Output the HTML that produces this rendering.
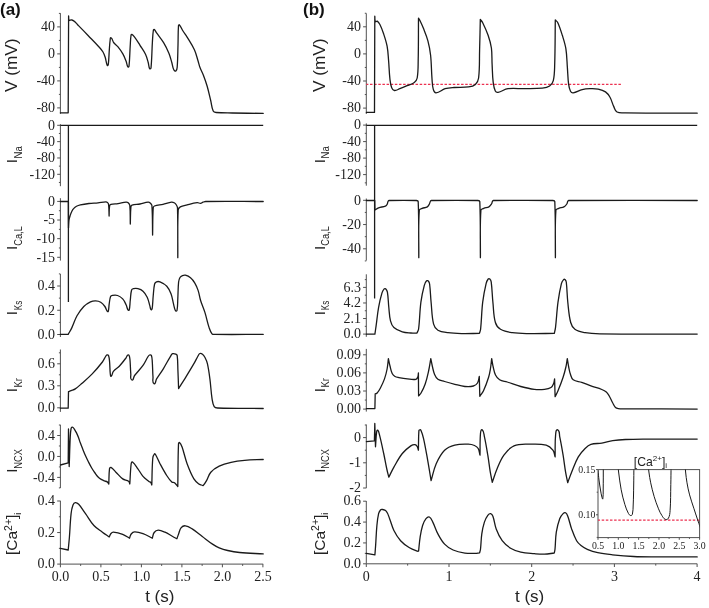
<!DOCTYPE html>
<html><head><meta charset="utf-8"><title>figure</title>
<style>html,body{margin:0;padding:0;background:#fff;width:709px;height:608px;overflow:hidden;}svg{display:block;filter:blur(0.35px);}</style>
</head><body>
<svg width="709" height="608" viewBox="0 0 709 608">
<rect width="709" height="608" fill="#fff"/>
<line x1="60.4" y1="13.2" x2="60.4" y2="113.9" stroke="#505050" stroke-width="1.0"/>
<line x1="57.2" y1="26.9" x2="60.4" y2="26.9" stroke="#505050" stroke-width="1.0"/>
<text x="55.1" y="31.19" font-family="Liberation Serif" font-size="14" text-anchor="end" fill="#222">40</text>
<line x1="57.2" y1="53.9" x2="60.4" y2="53.9" stroke="#505050" stroke-width="1.0"/>
<text x="55.1" y="58.19" font-family="Liberation Serif" font-size="14" text-anchor="end" fill="#222">0</text>
<line x1="57.2" y1="80.9" x2="60.4" y2="80.9" stroke="#505050" stroke-width="1.0"/>
<text x="55.1" y="85.19" font-family="Liberation Serif" font-size="14" text-anchor="end" fill="#222">-40</text>
<line x1="57.2" y1="107.9" x2="60.4" y2="107.9" stroke="#505050" stroke-width="1.0"/>
<text x="55.1" y="112.19" font-family="Liberation Serif" font-size="14" text-anchor="end" fill="#222">-80</text>
<line x1="58.9" y1="13.4" x2="60.4" y2="13.4" stroke="#505050" stroke-width="1.0"/>
<line x1="58.9" y1="40.4" x2="60.4" y2="40.4" stroke="#505050" stroke-width="1.0"/>
<line x1="58.9" y1="67.4" x2="60.4" y2="67.4" stroke="#505050" stroke-width="1.0"/>
<line x1="58.9" y1="94.4" x2="60.4" y2="94.4" stroke="#505050" stroke-width="1.0"/>
<line x1="60.4" y1="124.2" x2="60.4" y2="186.2" stroke="#505050" stroke-width="1.0"/>
<line x1="57.2" y1="125.3" x2="60.4" y2="125.3" stroke="#505050" stroke-width="1.0"/>
<text x="55.1" y="129.59" font-family="Liberation Serif" font-size="14" text-anchor="end" fill="#222">0</text>
<line x1="57.2" y1="141.63" x2="60.4" y2="141.63" stroke="#505050" stroke-width="1.0"/>
<text x="55.1" y="145.92" font-family="Liberation Serif" font-size="14" text-anchor="end" fill="#222">-40</text>
<line x1="57.2" y1="157.97" x2="60.4" y2="157.97" stroke="#505050" stroke-width="1.0"/>
<text x="55.1" y="162.26" font-family="Liberation Serif" font-size="14" text-anchor="end" fill="#222">-80</text>
<line x1="57.2" y1="174.3" x2="60.4" y2="174.3" stroke="#505050" stroke-width="1.0"/>
<text x="55.1" y="178.59" font-family="Liberation Serif" font-size="14" text-anchor="end" fill="#222">-120</text>
<line x1="58.9" y1="133.47" x2="60.4" y2="133.47" stroke="#505050" stroke-width="1.0"/>
<line x1="58.9" y1="149.8" x2="60.4" y2="149.8" stroke="#505050" stroke-width="1.0"/>
<line x1="58.9" y1="166.13" x2="60.4" y2="166.13" stroke="#505050" stroke-width="1.0"/>
<line x1="58.9" y1="182.47" x2="60.4" y2="182.47" stroke="#505050" stroke-width="1.0"/>
<line x1="60.4" y1="198.2" x2="60.4" y2="260.6" stroke="#505050" stroke-width="1.0"/>
<line x1="57.2" y1="201.4" x2="60.4" y2="201.4" stroke="#505050" stroke-width="1.0"/>
<text x="55.1" y="205.69" font-family="Liberation Serif" font-size="14" text-anchor="end" fill="#222">0</text>
<line x1="57.2" y1="220.03" x2="60.4" y2="220.03" stroke="#505050" stroke-width="1.0"/>
<text x="55.1" y="224.32" font-family="Liberation Serif" font-size="14" text-anchor="end" fill="#222">-5</text>
<line x1="57.2" y1="238.67" x2="60.4" y2="238.67" stroke="#505050" stroke-width="1.0"/>
<text x="55.1" y="242.96" font-family="Liberation Serif" font-size="14" text-anchor="end" fill="#222">-10</text>
<line x1="57.2" y1="257.3" x2="60.4" y2="257.3" stroke="#505050" stroke-width="1.0"/>
<text x="55.1" y="261.59" font-family="Liberation Serif" font-size="14" text-anchor="end" fill="#222">-15</text>
<line x1="58.9" y1="210.72" x2="60.4" y2="210.72" stroke="#505050" stroke-width="1.0"/>
<line x1="58.9" y1="229.35" x2="60.4" y2="229.35" stroke="#505050" stroke-width="1.0"/>
<line x1="58.9" y1="247.98" x2="60.4" y2="247.98" stroke="#505050" stroke-width="1.0"/>
<line x1="60.4" y1="274" x2="60.4" y2="337" stroke="#505050" stroke-width="1.0"/>
<line x1="57.2" y1="286" x2="60.4" y2="286" stroke="#505050" stroke-width="1.0"/>
<text x="55.1" y="290.29" font-family="Liberation Serif" font-size="14" text-anchor="end" fill="#222">0.4</text>
<line x1="57.2" y1="310.25" x2="60.4" y2="310.25" stroke="#505050" stroke-width="1.0"/>
<text x="55.1" y="314.54" font-family="Liberation Serif" font-size="14" text-anchor="end" fill="#222">0.2</text>
<line x1="57.2" y1="334.5" x2="60.4" y2="334.5" stroke="#505050" stroke-width="1.0"/>
<text x="55.1" y="338.79" font-family="Liberation Serif" font-size="14" text-anchor="end" fill="#222">0.0</text>
<line x1="58.9" y1="273.88" x2="60.4" y2="273.88" stroke="#505050" stroke-width="1.0"/>
<line x1="58.9" y1="298.12" x2="60.4" y2="298.12" stroke="#505050" stroke-width="1.0"/>
<line x1="58.9" y1="322.38" x2="60.4" y2="322.38" stroke="#505050" stroke-width="1.0"/>
<line x1="60.4" y1="349.5" x2="60.4" y2="411.9" stroke="#505050" stroke-width="1.0"/>
<line x1="57.2" y1="363.8" x2="60.4" y2="363.8" stroke="#505050" stroke-width="1.0"/>
<text x="55.1" y="368.09" font-family="Liberation Serif" font-size="14" text-anchor="end" fill="#222">0.6</text>
<line x1="57.2" y1="385.8" x2="60.4" y2="385.8" stroke="#505050" stroke-width="1.0"/>
<text x="55.1" y="390.09" font-family="Liberation Serif" font-size="14" text-anchor="end" fill="#222">0.3</text>
<line x1="57.2" y1="407.8" x2="60.4" y2="407.8" stroke="#505050" stroke-width="1.0"/>
<text x="55.1" y="412.09" font-family="Liberation Serif" font-size="14" text-anchor="end" fill="#222">0.0</text>
<line x1="58.9" y1="352.8" x2="60.4" y2="352.8" stroke="#505050" stroke-width="1.0"/>
<line x1="58.9" y1="374.8" x2="60.4" y2="374.8" stroke="#505050" stroke-width="1.0"/>
<line x1="58.9" y1="396.8" x2="60.4" y2="396.8" stroke="#505050" stroke-width="1.0"/>
<line x1="60.4" y1="424.8" x2="60.4" y2="488" stroke="#505050" stroke-width="1.0"/>
<line x1="57.2" y1="435.5" x2="60.4" y2="435.5" stroke="#505050" stroke-width="1.0"/>
<text x="55.1" y="439.79" font-family="Liberation Serif" font-size="14" text-anchor="end" fill="#222">0.4</text>
<line x1="57.2" y1="456.45" x2="60.4" y2="456.45" stroke="#505050" stroke-width="1.0"/>
<text x="55.1" y="460.74" font-family="Liberation Serif" font-size="14" text-anchor="end" fill="#222">0.0</text>
<line x1="57.2" y1="477.4" x2="60.4" y2="477.4" stroke="#505050" stroke-width="1.0"/>
<text x="55.1" y="481.69" font-family="Liberation Serif" font-size="14" text-anchor="end" fill="#222">-0.4</text>
<line x1="58.9" y1="425.03" x2="60.4" y2="425.03" stroke="#505050" stroke-width="1.0"/>
<line x1="58.9" y1="445.98" x2="60.4" y2="445.98" stroke="#505050" stroke-width="1.0"/>
<line x1="58.9" y1="466.93" x2="60.4" y2="466.93" stroke="#505050" stroke-width="1.0"/>
<line x1="58.9" y1="487.88" x2="60.4" y2="487.88" stroke="#505050" stroke-width="1.0"/>
<line x1="60.4" y1="500.8" x2="60.4" y2="564.1" stroke="#505050" stroke-width="1.0"/>
<line x1="57.2" y1="501" x2="60.4" y2="501" stroke="#505050" stroke-width="1.0"/>
<text x="55.1" y="505.29" font-family="Liberation Serif" font-size="14" text-anchor="end" fill="#222">0.4</text>
<line x1="57.2" y1="532.55" x2="60.4" y2="532.55" stroke="#505050" stroke-width="1.0"/>
<text x="55.1" y="536.84" font-family="Liberation Serif" font-size="14" text-anchor="end" fill="#222">0.2</text>
<line x1="57.2" y1="564.1" x2="60.4" y2="564.1" stroke="#505050" stroke-width="1.0"/>
<text x="55.1" y="568.39" font-family="Liberation Serif" font-size="14" text-anchor="end" fill="#222">0.0</text>
<line x1="58.9" y1="516.77" x2="60.4" y2="516.77" stroke="#505050" stroke-width="1.0"/>
<line x1="58.9" y1="548.33" x2="60.4" y2="548.33" stroke="#505050" stroke-width="1.0"/>
<line x1="60.4" y1="564.1" x2="263.2" y2="564.1" stroke="#505050" stroke-width="1.0"/>
<line x1="60.4" y1="564.1" x2="60.4" y2="567.3" stroke="#505050" stroke-width="1.0"/>
<text x="60.4" y="580.8" font-family="Liberation Serif" font-size="14" text-anchor="middle" fill="#222">0.0</text>
<line x1="100.9" y1="564.1" x2="100.9" y2="567.3" stroke="#505050" stroke-width="1.0"/>
<text x="100.9" y="580.8" font-family="Liberation Serif" font-size="14" text-anchor="middle" fill="#222">0.5</text>
<line x1="141.4" y1="564.1" x2="141.4" y2="567.3" stroke="#505050" stroke-width="1.0"/>
<text x="141.4" y="580.8" font-family="Liberation Serif" font-size="14" text-anchor="middle" fill="#222">1.0</text>
<line x1="181.9" y1="564.1" x2="181.9" y2="567.3" stroke="#505050" stroke-width="1.0"/>
<text x="181.9" y="580.8" font-family="Liberation Serif" font-size="14" text-anchor="middle" fill="#222">1.5</text>
<line x1="222.4" y1="564.1" x2="222.4" y2="567.3" stroke="#505050" stroke-width="1.0"/>
<text x="222.4" y="580.8" font-family="Liberation Serif" font-size="14" text-anchor="middle" fill="#222">2.0</text>
<line x1="262.9" y1="564.1" x2="262.9" y2="567.3" stroke="#505050" stroke-width="1.0"/>
<text x="262.9" y="580.8" font-family="Liberation Serif" font-size="14" text-anchor="middle" fill="#222">2.5</text>
<line x1="80.65" y1="564.1" x2="80.65" y2="565.9" stroke="#505050" stroke-width="1.0"/>
<line x1="121.15" y1="564.1" x2="121.15" y2="565.9" stroke="#505050" stroke-width="1.0"/>
<line x1="161.65" y1="564.1" x2="161.65" y2="565.9" stroke="#505050" stroke-width="1.0"/>
<line x1="202.15" y1="564.1" x2="202.15" y2="565.9" stroke="#505050" stroke-width="1.0"/>
<line x1="242.65" y1="564.1" x2="242.65" y2="565.9" stroke="#505050" stroke-width="1.0"/>
<line x1="366.3" y1="13.4" x2="366.3" y2="114" stroke="#505050" stroke-width="1.0"/>
<line x1="363.1" y1="26.8" x2="366.3" y2="26.8" stroke="#505050" stroke-width="1.0"/>
<text x="361" y="31.09" font-family="Liberation Serif" font-size="14" text-anchor="end" fill="#222">40</text>
<line x1="363.1" y1="53.9" x2="366.3" y2="53.9" stroke="#505050" stroke-width="1.0"/>
<text x="361" y="58.19" font-family="Liberation Serif" font-size="14" text-anchor="end" fill="#222">0</text>
<line x1="363.1" y1="81" x2="366.3" y2="81" stroke="#505050" stroke-width="1.0"/>
<text x="361" y="85.29" font-family="Liberation Serif" font-size="14" text-anchor="end" fill="#222">-40</text>
<line x1="363.1" y1="108.1" x2="366.3" y2="108.1" stroke="#505050" stroke-width="1.0"/>
<text x="361" y="112.39" font-family="Liberation Serif" font-size="14" text-anchor="end" fill="#222">-80</text>
<line x1="364.8" y1="13.25" x2="366.3" y2="13.25" stroke="#505050" stroke-width="1.0"/>
<line x1="364.8" y1="40.35" x2="366.3" y2="40.35" stroke="#505050" stroke-width="1.0"/>
<line x1="364.8" y1="67.45" x2="366.3" y2="67.45" stroke="#505050" stroke-width="1.0"/>
<line x1="364.8" y1="94.55" x2="366.3" y2="94.55" stroke="#505050" stroke-width="1.0"/>
<line x1="366.3" y1="123.4" x2="366.3" y2="185.7" stroke="#505050" stroke-width="1.0"/>
<line x1="363.1" y1="125.1" x2="366.3" y2="125.1" stroke="#505050" stroke-width="1.0"/>
<text x="361" y="129.39" font-family="Liberation Serif" font-size="14" text-anchor="end" fill="#222">0</text>
<line x1="363.1" y1="141.6" x2="366.3" y2="141.6" stroke="#505050" stroke-width="1.0"/>
<text x="361" y="145.89" font-family="Liberation Serif" font-size="14" text-anchor="end" fill="#222">-40</text>
<line x1="363.1" y1="158.1" x2="366.3" y2="158.1" stroke="#505050" stroke-width="1.0"/>
<text x="361" y="162.39" font-family="Liberation Serif" font-size="14" text-anchor="end" fill="#222">-80</text>
<line x1="363.1" y1="174.6" x2="366.3" y2="174.6" stroke="#505050" stroke-width="1.0"/>
<text x="361" y="178.89" font-family="Liberation Serif" font-size="14" text-anchor="end" fill="#222">-120</text>
<line x1="364.8" y1="133.35" x2="366.3" y2="133.35" stroke="#505050" stroke-width="1.0"/>
<line x1="364.8" y1="149.85" x2="366.3" y2="149.85" stroke="#505050" stroke-width="1.0"/>
<line x1="364.8" y1="166.35" x2="366.3" y2="166.35" stroke="#505050" stroke-width="1.0"/>
<line x1="364.8" y1="182.85" x2="366.3" y2="182.85" stroke="#505050" stroke-width="1.0"/>
<line x1="366.3" y1="198.5" x2="366.3" y2="260.6" stroke="#505050" stroke-width="1.0"/>
<line x1="363.1" y1="200.3" x2="366.3" y2="200.3" stroke="#505050" stroke-width="1.0"/>
<text x="361" y="204.59" font-family="Liberation Serif" font-size="14" text-anchor="end" fill="#222">0</text>
<line x1="363.1" y1="224.55" x2="366.3" y2="224.55" stroke="#505050" stroke-width="1.0"/>
<text x="361" y="228.84" font-family="Liberation Serif" font-size="14" text-anchor="end" fill="#222">-20</text>
<line x1="363.1" y1="248.8" x2="366.3" y2="248.8" stroke="#505050" stroke-width="1.0"/>
<text x="361" y="253.09" font-family="Liberation Serif" font-size="14" text-anchor="end" fill="#222">-40</text>
<line x1="364.8" y1="212.43" x2="366.3" y2="212.43" stroke="#505050" stroke-width="1.0"/>
<line x1="364.8" y1="236.68" x2="366.3" y2="236.68" stroke="#505050" stroke-width="1.0"/>
<line x1="364.8" y1="260.93" x2="366.3" y2="260.93" stroke="#505050" stroke-width="1.0"/>
<line x1="366.3" y1="274.3" x2="366.3" y2="336.8" stroke="#505050" stroke-width="1.0"/>
<line x1="363.1" y1="287.4" x2="366.3" y2="287.4" stroke="#505050" stroke-width="1.0"/>
<text x="361" y="291.69" font-family="Liberation Serif" font-size="14" text-anchor="end" fill="#222">6.3</text>
<line x1="363.1" y1="302.97" x2="366.3" y2="302.97" stroke="#505050" stroke-width="1.0"/>
<text x="361" y="307.26" font-family="Liberation Serif" font-size="14" text-anchor="end" fill="#222">4.2</text>
<line x1="363.1" y1="318.53" x2="366.3" y2="318.53" stroke="#505050" stroke-width="1.0"/>
<text x="361" y="322.82" font-family="Liberation Serif" font-size="14" text-anchor="end" fill="#222">2.1</text>
<line x1="363.1" y1="334.1" x2="366.3" y2="334.1" stroke="#505050" stroke-width="1.0"/>
<text x="361" y="338.39" font-family="Liberation Serif" font-size="14" text-anchor="end" fill="#222">0.0</text>
<line x1="364.8" y1="279.62" x2="366.3" y2="279.62" stroke="#505050" stroke-width="1.0"/>
<line x1="364.8" y1="295.18" x2="366.3" y2="295.18" stroke="#505050" stroke-width="1.0"/>
<line x1="364.8" y1="310.75" x2="366.3" y2="310.75" stroke="#505050" stroke-width="1.0"/>
<line x1="364.8" y1="326.32" x2="366.3" y2="326.32" stroke="#505050" stroke-width="1.0"/>
<line x1="366.3" y1="348.9" x2="366.3" y2="411.6" stroke="#505050" stroke-width="1.0"/>
<line x1="363.1" y1="354.8" x2="366.3" y2="354.8" stroke="#505050" stroke-width="1.0"/>
<text x="361" y="359.09" font-family="Liberation Serif" font-size="14" text-anchor="end" fill="#222">0.09</text>
<line x1="363.1" y1="372.9" x2="366.3" y2="372.9" stroke="#505050" stroke-width="1.0"/>
<text x="361" y="377.19" font-family="Liberation Serif" font-size="14" text-anchor="end" fill="#222">0.06</text>
<line x1="363.1" y1="391" x2="366.3" y2="391" stroke="#505050" stroke-width="1.0"/>
<text x="361" y="395.29" font-family="Liberation Serif" font-size="14" text-anchor="end" fill="#222">0.03</text>
<line x1="363.1" y1="409.1" x2="366.3" y2="409.1" stroke="#505050" stroke-width="1.0"/>
<text x="361" y="413.39" font-family="Liberation Serif" font-size="14" text-anchor="end" fill="#222">0.00</text>
<line x1="364.8" y1="363.85" x2="366.3" y2="363.85" stroke="#505050" stroke-width="1.0"/>
<line x1="364.8" y1="381.95" x2="366.3" y2="381.95" stroke="#505050" stroke-width="1.0"/>
<line x1="364.8" y1="400.05" x2="366.3" y2="400.05" stroke="#505050" stroke-width="1.0"/>
<line x1="366.3" y1="424.5" x2="366.3" y2="488.1" stroke="#505050" stroke-width="1.0"/>
<line x1="363.1" y1="437.6" x2="366.3" y2="437.6" stroke="#505050" stroke-width="1.0"/>
<text x="361" y="441.89" font-family="Liberation Serif" font-size="14" text-anchor="end" fill="#222">0</text>
<line x1="363.1" y1="462.8" x2="366.3" y2="462.8" stroke="#505050" stroke-width="1.0"/>
<text x="361" y="467.09" font-family="Liberation Serif" font-size="14" text-anchor="end" fill="#222">-1</text>
<line x1="363.1" y1="488" x2="366.3" y2="488" stroke="#505050" stroke-width="1.0"/>
<text x="361" y="492.29" font-family="Liberation Serif" font-size="14" text-anchor="end" fill="#222">-2</text>
<line x1="364.8" y1="425" x2="366.3" y2="425" stroke="#505050" stroke-width="1.0"/>
<line x1="364.8" y1="450.2" x2="366.3" y2="450.2" stroke="#505050" stroke-width="1.0"/>
<line x1="364.8" y1="475.4" x2="366.3" y2="475.4" stroke="#505050" stroke-width="1.0"/>
<line x1="366.3" y1="501" x2="366.3" y2="563.8" stroke="#505050" stroke-width="1.0"/>
<line x1="363.1" y1="501.2" x2="366.3" y2="501.2" stroke="#505050" stroke-width="1.0"/>
<text x="361" y="505.49" font-family="Liberation Serif" font-size="14" text-anchor="end" fill="#222">0.6</text>
<line x1="363.1" y1="522.07" x2="366.3" y2="522.07" stroke="#505050" stroke-width="1.0"/>
<text x="361" y="526.36" font-family="Liberation Serif" font-size="14" text-anchor="end" fill="#222">0.4</text>
<line x1="363.1" y1="542.93" x2="366.3" y2="542.93" stroke="#505050" stroke-width="1.0"/>
<text x="361" y="547.22" font-family="Liberation Serif" font-size="14" text-anchor="end" fill="#222">0.2</text>
<line x1="363.1" y1="563.8" x2="366.3" y2="563.8" stroke="#505050" stroke-width="1.0"/>
<text x="361" y="568.09" font-family="Liberation Serif" font-size="14" text-anchor="end" fill="#222">0.0</text>
<line x1="364.8" y1="511.63" x2="366.3" y2="511.63" stroke="#505050" stroke-width="1.0"/>
<line x1="364.8" y1="532.5" x2="366.3" y2="532.5" stroke="#505050" stroke-width="1.0"/>
<line x1="364.8" y1="553.37" x2="366.3" y2="553.37" stroke="#505050" stroke-width="1.0"/>
<line x1="366.3" y1="563.8" x2="697.2" y2="563.8" stroke="#505050" stroke-width="1.0"/>
<line x1="366.3" y1="563.8" x2="366.3" y2="567" stroke="#505050" stroke-width="1.0"/>
<text x="366.3" y="580.6" font-family="Liberation Serif" font-size="14" text-anchor="middle" fill="#222">0</text>
<line x1="449" y1="563.8" x2="449" y2="567" stroke="#505050" stroke-width="1.0"/>
<text x="449" y="580.6" font-family="Liberation Serif" font-size="14" text-anchor="middle" fill="#222">1</text>
<line x1="531.7" y1="563.8" x2="531.7" y2="567" stroke="#505050" stroke-width="1.0"/>
<text x="531.7" y="580.6" font-family="Liberation Serif" font-size="14" text-anchor="middle" fill="#222">2</text>
<line x1="614.4" y1="563.8" x2="614.4" y2="567" stroke="#505050" stroke-width="1.0"/>
<text x="614.4" y="580.6" font-family="Liberation Serif" font-size="14" text-anchor="middle" fill="#222">3</text>
<line x1="697.1" y1="563.8" x2="697.1" y2="567" stroke="#505050" stroke-width="1.0"/>
<text x="697.1" y="580.6" font-family="Liberation Serif" font-size="14" text-anchor="middle" fill="#222">4</text>
<line x1="407.65" y1="563.8" x2="407.65" y2="565.6" stroke="#505050" stroke-width="1.0"/>
<line x1="490.35" y1="563.8" x2="490.35" y2="565.6" stroke="#505050" stroke-width="1.0"/>
<line x1="573.05" y1="563.8" x2="573.05" y2="565.6" stroke="#505050" stroke-width="1.0"/>
<line x1="655.75" y1="563.8" x2="655.75" y2="565.6" stroke="#505050" stroke-width="1.0"/>
<text transform="translate(17.1 65.2) rotate(-90)" font-family="Liberation Sans" font-size="17.2" text-anchor="middle" fill="#222">V (mV)</text>
<text transform="translate(17.3 161.1) rotate(-90)" font-family="Liberation Sans" font-size="15.2" text-anchor="middle" fill="#222">I</text>
<text transform="translate(21.5 158.4) rotate(-90)" font-family="Liberation Sans" font-size="10.0" fill="#222" textLength="12.3" lengthAdjust="spacingAndGlyphs">Na</text>
<text transform="translate(17.3 248) rotate(-90)" font-family="Liberation Sans" font-size="15.2" text-anchor="middle" fill="#222">I</text>
<text transform="translate(21.5 245.8) rotate(-90)" font-family="Liberation Sans" font-size="10.0" fill="#222" textLength="19.6" lengthAdjust="spacingAndGlyphs">Ca,L</text>
<text transform="translate(17.3 313.1) rotate(-90)" font-family="Liberation Sans" font-size="15.2" text-anchor="middle" fill="#222">I</text>
<text transform="translate(21.5 310.2) rotate(-90)" font-family="Liberation Sans" font-size="10.0" fill="#222" textLength="9.5" lengthAdjust="spacingAndGlyphs">Ks</text>
<text transform="translate(17.3 390.1) rotate(-90)" font-family="Liberation Sans" font-size="15.2" text-anchor="middle" fill="#222">I</text>
<text transform="translate(21.5 387.6) rotate(-90)" font-family="Liberation Sans" font-size="10.0" fill="#222" textLength="9.4" lengthAdjust="spacingAndGlyphs">Kr</text>
<text transform="translate(17.3 470.7) rotate(-90)" font-family="Liberation Sans" font-size="15.2" text-anchor="middle" fill="#222">I</text>
<text transform="translate(21.5 468.7) rotate(-90)" font-family="Liberation Sans" font-size="10.0" fill="#222" textLength="19.6" lengthAdjust="spacingAndGlyphs">NCX</text>
<text transform="translate(17.4 555) rotate(-90)" font-family="Liberation Sans" font-size="15.5" fill="#222">[Ca<tspan font-size="10.4" dy="-5.7">2+</tspan><tspan dy="5.7">]</tspan><tspan font-size="9.3" dy="3.6">i</tspan></text>
<text transform="translate(324.5 65.2) rotate(-90)" font-family="Liberation Sans" font-size="17.2" text-anchor="middle" fill="#222">V (mV)</text>
<text transform="translate(324.7 161.1) rotate(-90)" font-family="Liberation Sans" font-size="15.2" text-anchor="middle" fill="#222">I</text>
<text transform="translate(328.9 158.4) rotate(-90)" font-family="Liberation Sans" font-size="10.0" fill="#222" textLength="12.3" lengthAdjust="spacingAndGlyphs">Na</text>
<text transform="translate(324.7 248) rotate(-90)" font-family="Liberation Sans" font-size="15.2" text-anchor="middle" fill="#222">I</text>
<text transform="translate(328.9 245.8) rotate(-90)" font-family="Liberation Sans" font-size="10.0" fill="#222" textLength="19.6" lengthAdjust="spacingAndGlyphs">Ca,L</text>
<text transform="translate(324.7 313.1) rotate(-90)" font-family="Liberation Sans" font-size="15.2" text-anchor="middle" fill="#222">I</text>
<text transform="translate(328.9 310.2) rotate(-90)" font-family="Liberation Sans" font-size="10.0" fill="#222" textLength="9.5" lengthAdjust="spacingAndGlyphs">Ks</text>
<text transform="translate(324.7 390.1) rotate(-90)" font-family="Liberation Sans" font-size="15.2" text-anchor="middle" fill="#222">I</text>
<text transform="translate(328.9 387.6) rotate(-90)" font-family="Liberation Sans" font-size="10.0" fill="#222" textLength="9.4" lengthAdjust="spacingAndGlyphs">Kr</text>
<text transform="translate(324.7 470.7) rotate(-90)" font-family="Liberation Sans" font-size="15.2" text-anchor="middle" fill="#222">I</text>
<text transform="translate(328.9 468.7) rotate(-90)" font-family="Liberation Sans" font-size="10.0" fill="#222" textLength="19.6" lengthAdjust="spacingAndGlyphs">NCX</text>
<text transform="translate(324.8 555) rotate(-90)" font-family="Liberation Sans" font-size="15.5" fill="#222">[Ca<tspan font-size="10.4" dy="-5.7">2+</tspan><tspan dy="5.7">]</tspan><tspan font-size="9.3" dy="3.6">i</tspan></text>
<text x="159.8" y="601.7" font-family="Liberation Sans" font-size="17" text-anchor="middle" fill="#222">t (s)</text>
<text x="529.6" y="601.7" font-family="Liberation Sans" font-size="17" text-anchor="middle" fill="#222">t (s)</text>
<text x="0" y="14.6" font-family="Liberation Sans" font-size="17" font-weight="bold" fill="#111">(a)</text>
<text x="303.0" y="14.6" font-family="Liberation Sans" font-size="17" font-weight="bold" fill="#111">(b)</text>
<path d="M60.4 112.8 L68.2 112.8 L68.6 16 L68.8 20.8 C69.3 20.55 69.66 20.25 70.2 20.1 C70.76 19.95 71.23 19.91 71.8 20 C72.37 20.09 72.79 20.31 73.3 20.6 C73.88 20.93 74.3 21.26 74.8 21.7 C75.45 22.27 75.9 22.77 76.5 23.4 C77.24 24.18 77.76 24.83 78.5 25.6 C82.01 29.26 84.79 32.05 88.3 35.7 C92.1 39.65 95.13 42.63 98.8 46.7 C100.43 48.51 101.74 49.92 103 52 C104.07 53.77 104.57 55.33 105.2 57.3 C106.12 60.2 106.07 62.71 107.3 65.5 C107.53 66.01 108.23 64.86 108.3 64.3 C108.96 59.18 108.91 55.15 109.3 50 C109.56 46.58 109.63 43.9 110.1 40.5 C110.24 39.49 110.11 37.29 111 37.8 C112.68 38.76 112.43 40.96 113.6 42.5 C114.9 44.2 116.45 45.04 117.8 46.7 C119.85 49.23 121.39 51.27 123 54.1 C124.43 56.62 125.17 58.79 126.2 61.5 C126.94 63.44 126.84 65.22 127.9 67 C128.15 67.42 128.95 66.69 129 66.2 C129.79 58.96 129.73 53.27 130.2 46 C130.45 42.22 130.48 39.26 131 35.5 C131.07 35.01 131.35 34.2 131.8 34.4 C133.08 34.97 133.76 35.98 134.6 37.1 C136.72 39.92 138.11 42.31 140 45.3 C142.03 48.51 143.87 50.87 145.5 54.3 C146.84 57.11 147.34 59.51 148.2 62.5 C148.85 64.74 148.64 66.72 149.7 68.8 C149.95 69.29 150.94 68.55 151 68 C151.94 58.67 151.81 51.35 152.4 42 C152.67 37.67 152.75 34.29 153.4 30 C153.46 29.63 154.02 29.26 154.3 29.5 C155.32 30.38 155.62 31.5 156.4 32.6 C158.97 36.22 161.3 38.81 163.6 42.6 C165.85 46.32 167.34 49.38 169 53.4 C170.31 56.57 170.84 59.21 171.8 62.5 C172.57 65.12 172.62 67.35 173.8 69.8 C174.18 70.58 175.23 71.55 175.9 71 C177.07 70.04 177.08 68.51 177.2 67 C177.84 59.1 177.75 52.92 178 45 C178.22 37.98 178.01 32.51 178.5 25.5 C178.53 25.09 179.14 24.48 179.4 24.8 C181.03 26.8 181.63 28.81 183 31 C184.4 33.24 185.73 34.84 187.1 37.1 C189.83 41.61 192.19 45.01 194.4 49.8 C196.13 53.55 196.75 56.76 198 60.7 C198.77 63.13 199.11 65.11 200 67.5 C201.06 70.34 202.31 72.37 203.4 75.2 C204.87 79.04 205.96 82.05 207.1 86 C208.59 91.17 209.43 95.27 210.7 100.5 C211.62 104.27 211.61 107.46 213.2 111 C213.68 112.07 214.93 112.38 216.1 112.5 C221.94 113.11 226.53 112.89 232.4 113 C243.49 113.21 252.11 113.26 263.2 113.4" fill="none" stroke="#1a1a1a" stroke-width="1.3" stroke-linejoin="round" stroke-linecap="round"/>
<line x1="60.4" y1="125.4" x2="263.2" y2="125.4" stroke="#1a1a1a" stroke-width="1.3"/>
<line x1="68.4" y1="125.4" x2="68.4" y2="302" stroke="#1a1a1a" stroke-width="1.3"/>
<path d="M60.4 201.5 L68.4 201.5 L68.5 228 C68.68 225.12 68.61 222.86 69 220 C69.23 218.3 69.66 217.02 70.2 215.4 C70.74 213.78 71.23 212.53 72 211 C72.46 210.07 72.88 209.35 73.6 208.6 C74.52 207.64 75.33 206.94 76.5 206.3 C77.81 205.59 78.94 205.23 80.4 204.9 C83.43 204.22 85.82 203.87 88.9 203.5 C92.16 203.11 94.73 203.11 98 202.8 C100.81 202.53 102.97 201.96 105.8 201.9 C106.5 201.89 107.1 202.12 107.6 202.6 C108.18 203.16 108.51 203.8 108.6 204.6 C109.06 208.68 108.92 211.9 109.1 216 C109.28 212.4 109.05 209.56 109.6 206 C109.71 205.27 110.19 204.6 110.9 204.4 C113.37 203.69 115.46 203.98 118 203.6 C120.93 203.16 123.14 202.33 126.1 202.1 C126.89 202.04 127.61 202.26 128.2 202.8 C129.03 203.56 129.69 204.38 129.8 205.5 C130.46 212.13 130.12 217.34 130.3 224 C130.52 217.88 130.35 213.1 130.9 207 C130.97 206.24 131.28 205.44 132 205.2 C134.77 204.29 137.14 204.55 140 204 C142.94 203.43 145.12 202.42 148.1 202.1 C148.9 202.01 149.6 202.36 150.2 202.9 C151.03 203.65 151.82 204.38 151.9 205.5 C152.69 216.09 152.35 224.38 152.6 235 C152.82 225.28 152.6 217.7 153.2 208 C153.25 207.16 153.61 206.3 154.4 206 C157.35 204.89 159.92 205 163 204.3 C166.08 203.6 168.37 202.52 171.5 202.1 C172.5 201.97 173.34 202.29 174.2 202.8 C175.16 203.37 175.8 204.05 176.4 205 C177.02 205.97 177.47 206.85 177.5 208 C177.98 225.89 177.69 239.81 177.8 257.7 C177.94 240.53 177.36 227.15 178.2 210 C178.27 208.65 179.13 207.57 180.3 206.9 C182.51 205.63 184.62 205.52 187.1 204.9 C190.71 204 193.5 203.14 197.2 202.7 C198.43 202.55 199.36 203.41 200.6 203.3 C201.55 203.22 202.1 202.52 203 202.2 C203.95 201.87 204.7 201.51 205.7 201.5 C226.4 201.26 242.5 201.5 263.2 201.5" fill="none" stroke="#1a1a1a" stroke-width="1.3" stroke-linejoin="round" stroke-linecap="round"/>
<path d="M60.4 334.4 L68.2 334.4 C69.53 331.95 70.71 330.12 71.9 327.6 C73.88 323.42 74.73 319.83 77 315.8 C79.04 312.19 80.91 309.48 83.8 306.5 C85.84 304.4 87.86 303.15 90.5 301.9 C92.19 301.1 93.73 300.84 95.6 300.9 C97.49 300.96 99.08 301.22 100.7 302.2 C102.55 303.32 103.64 304.74 104.9 306.5 C105.94 307.95 106.02 309.51 107 311 C107.26 311.39 108.06 311.95 108.2 311.5 C109.02 308.86 108.76 306.62 109.2 303.9 C109.63 301.26 109.63 299.09 110.6 296.6 C110.89 295.85 111.7 295.53 112.5 295.4 C114.31 295.11 115.86 294.9 117.6 295.5 C119.69 296.22 121.21 297.27 122.7 298.9 C124.35 300.71 125.04 302.59 126.1 304.8 C126.96 306.6 127.01 308.27 128 310 C128.22 310.38 129.1 310.63 129.2 310.2 C130.03 306.6 129.86 303.67 130.3 300 C130.73 296.4 130.61 293.49 131.6 290 C131.83 289.2 132.69 288.87 133.5 288.7 C135.05 288.38 136.37 288.3 137.9 288.7 C139.88 289.22 141.49 289.82 143 291.2 C144.95 292.98 146.07 294.82 147.2 297.2 C148.55 300.06 148.87 302.57 149.8 305.6 C150.24 307.04 150.16 308.35 151 309.6 C151.25 309.97 152.03 309.45 152.1 309 C152.85 304.36 152.73 300.67 153.2 296 C153.63 291.67 153.62 288.24 154.6 284 C154.84 282.98 155.52 282.18 156.5 281.8 C157.67 281.34 158.84 281.4 160 281.9 C162.66 283.04 164.83 284.07 166.8 286.2 C168.92 288.5 169.89 290.88 171 293.8 C172.33 297.3 172.54 300.28 173.5 303.9 C174.16 306.4 174.29 308.52 175.5 310.8 C175.76 311.29 176.9 311.04 177 310.5 C177.79 306.39 177.57 303.08 177.8 298.9 C178.14 292.82 177.98 288.06 178.6 282 C178.77 280.31 179.12 278.95 180 277.5 C180.59 276.53 181.46 276.04 182.5 275.6 C183.47 275.19 184.38 274.93 185.4 275.2 C187.38 275.72 188.92 276.41 190.5 277.7 C192.34 279.21 193.48 280.76 194.7 282.8 C196.24 285.37 197.15 287.56 198.1 290.4 C199.28 293.95 199.49 296.92 200.6 300.5 C201.95 304.85 203.54 308.05 204.9 312.4 C206.6 317.82 207.31 322.21 209.1 327.6 C209.88 329.94 210.47 331.87 212 333.8 C212.58 334.52 213.57 334.39 214.5 334.4 C232.03 334.61 245.67 334.4 263.2 334.4" fill="none" stroke="#1a1a1a" stroke-width="1.3" stroke-linejoin="round" stroke-linecap="round"/>
<path d="M60.4 408.2 L68.2 408.2 L68.5 391.6 C69.44 391.24 70.17 390.97 71.1 390.6 C72.62 390 73.95 389.81 75.3 388.9 C77.95 387.12 79.71 385.32 82.1 383.2 C85.8 379.92 88.78 377.47 92.2 373.9 C96.1 369.82 98.96 366.47 102.4 362 C103.8 360.19 104.35 358.42 105.6 356.5 C106.02 355.86 106.25 355.07 107 354.9 C107.64 354.75 108.37 355.18 108.6 355.8 C109.38 357.92 109.39 359.75 109.6 362 C110 366.31 109.82 369.7 110.3 374 C110.4 374.88 110.53 376.88 111.2 376.3 C112.68 375.01 112.17 372.83 113.4 371.3 C115.16 369.11 117.38 368.24 119.3 366.2 C121.97 363.37 123.77 360.92 126.1 357.8 C126.74 356.95 126.71 355.91 127.5 355.2 C127.9 354.84 128.75 354.72 129 355.2 C129.82 356.77 129.83 358.24 130 360 C130.48 365.03 130.35 368.97 130.8 374 C131 376.18 129.76 379.2 131.8 380 C133.57 380.7 133.44 377.01 134.6 375.5 C137.48 371.75 140.25 369.25 143 365.4 C145.02 362.56 145.95 359.95 147.8 357 C148.3 356.2 148.62 355.34 149.5 355 C150.17 354.74 151.13 354.93 151.4 355.6 C152.26 357.76 152.13 359.68 152.3 362 C152.7 367.39 152.58 371.61 153 377 C153.19 379.4 151.87 382.48 154 383.6 C155.71 384.5 155.57 380.54 156.6 378.9 C158.92 375.21 161.01 372.52 163.3 368.8 C166.02 364.38 167.78 360.72 170.5 356.3 C171.13 355.28 171.49 354.16 172.6 353.7 C173.67 353.25 174.73 353.66 175.8 354.1 C176.48 354.38 177.1 354.87 177.2 355.6 C177.88 360.75 177.68 364.81 177.9 370 C178.18 376.69 178.35 381.9 178.6 388.6 C179.54 387.05 180.24 385.83 181.2 384.3 C182.68 381.94 183.94 380.17 185.4 377.8 C188.51 372.75 190.93 368.83 193.9 363.7 C195.47 360.98 196.43 358.72 198 356 C198.56 355.04 198.76 353.89 199.8 353.5 C200.75 353.14 201.7 353.68 202.5 354.3 C203.66 355.19 204.32 356.2 205 357.5 C206.11 359.62 206.87 361.37 207.4 363.7 C208.64 369.11 209.17 373.4 209.9 378.9 C210.86 386.19 210.97 391.94 212.1 399.2 C212.52 401.94 212.75 404.24 214.2 406.6 C214.87 407.7 216.21 407.95 217.5 408 C233.94 408.64 246.75 408.32 263.2 408.5" fill="none" stroke="#1a1a1a" stroke-width="1.3" stroke-linejoin="round" stroke-linecap="round"/>
<path d="M60.4 465 L68.2 462.9 L68.5 429 L69.2 466.5 C69.6 455.52 69.75 446.97 70.3 436 C70.44 433.29 70.56 431.16 71.1 428.5 C71.22 427.92 71.56 427.43 72.1 427.2 C72.49 427.03 72.9 427.31 73.2 427.6 C73.83 428.21 74.14 428.85 74.6 429.6 C75.32 430.76 75.9 431.67 76.5 432.9 C77.31 434.55 77.84 435.88 78.5 437.6 C79.21 439.45 79.61 440.94 80.3 442.8 C81.16 445.12 81.88 446.9 82.8 449.2 C83.71 451.48 84.4 453.26 85.4 455.5 C86.45 457.87 87.33 459.68 88.5 462 C89.6 464.19 90.45 465.89 91.7 468 C92.8 469.86 93.75 471.24 95 473 C96.06 474.48 96.83 475.69 98.1 477 C99.08 478.01 100 478.66 101.2 479.4 C102.28 480.07 103.23 480.41 104.4 480.9 C105.39 481.31 106.33 481.28 107.2 481.9 C107.98 482.45 108.22 483.24 108.8 484 C109.05 478.53 108.81 474.23 109.5 468.8 C109.59 468.09 110.27 467.07 110.9 467.4 C113.1 468.57 114.11 470.46 115.9 472.2 C118.36 474.6 119.9 476.91 122.7 478.9 C124.56 480.22 126.75 479.87 128.6 481.2 C129.49 481.84 129.37 482.99 129.8 484 C130.3 476.62 130.3 470.84 131.2 463.5 C131.29 462.79 131.94 461.56 132.5 462 C134.95 463.94 136.06 466.27 137.9 468.8 C139.84 471.46 140.84 473.91 143 476.4 C144.84 478.52 146.69 479.77 148.9 481.5 C149.51 481.98 150.31 481.9 150.8 482.5 C151.42 483.25 151.44 484.1 151.8 485 C152.16 475.28 151.96 467.69 152.8 458 C152.94 456.37 153.5 455.09 154.5 453.8 C154.77 453.45 155.29 454.12 155.5 454.5 C157.29 457.72 158.26 460.45 160 463.7 C162.3 468.01 164.05 471.39 166.7 475.5 C168.31 478 169.63 479.97 171.8 482 C172.54 482.69 173.7 482.18 174.5 482.8 C175.94 483.9 176.61 485.23 177.8 486.6 C178.05 471.26 177.91 459.33 178.5 444 C178.52 443.35 178.99 442.09 179.5 442.5 C180.9 443.62 181.4 445.11 182 446.8 C184.14 452.78 184.89 457.74 187.1 463.7 C189.18 469.32 190.89 473.72 193.9 478.9 C195.19 481.12 196.89 482.39 198.9 484 C199.68 484.63 200.55 484.69 201.5 485 C202.1 485.19 202.73 485.82 203.2 485.4 C204.77 484.01 205.45 482.42 206.5 480.6 C208.2 477.66 208.55 474.75 210.8 472.2 C213.26 469.41 215.86 467.83 219.2 466.2 C223.25 464.22 226.71 463.32 231.1 462.3 C235.89 461.19 239.71 460.73 244.6 460.3 C251.28 459.72 256.5 459.79 263.2 459.5" fill="none" stroke="#1a1a1a" stroke-width="1.3" stroke-linejoin="round" stroke-linecap="round"/>
<path d="M60.4 548.3 L68.2 550 C68.63 545.43 69.04 541.88 69.4 537.3 C70.08 528.77 70.15 522.1 71.1 513.6 C71.45 510.45 71.87 507.96 73 505 C73.43 503.88 74.11 502.75 75.3 502.6 C76.66 502.43 77.77 503.3 78.7 504.3 C81.52 507.34 83.08 510.23 85.5 513.6 C88.56 517.86 90.37 521.62 93.9 525.5 C96.52 528.38 99.29 529.86 102.4 532.2 C104.8 534 106.75 535.27 109.2 537 C109.85 535.74 110.07 534.57 111 533.5 C111.65 532.76 112.42 532.13 113.4 532.2 C116.82 532.43 119.48 533.1 122.7 534.3 C125.34 535.29 127.05 536.8 129.5 538.2 C130.11 536.69 130.17 535.27 131.2 534 C132.11 532.88 133.16 531.95 134.6 531.9 C137.68 531.8 140.09 532.57 143 533.6 C146.52 534.85 148.95 536.54 152.3 538.2 C152.98 536.15 152.92 534.24 154.2 532.5 C155.19 531.16 156.54 530.25 158.2 530.2 C160.75 530.13 162.66 531.18 165 532.2 C167.91 533.47 169.91 534.98 172.7 536.5 C174.2 537.32 175.39 537.91 176.9 538.7 C177.51 536.97 177.94 535.61 178.6 533.9 C179.49 531.61 179.62 529.48 181.2 527.6 C182.26 526.34 183.77 525.61 185.4 525.8 C188.07 526.12 189.93 527.46 192.2 528.9 C196.04 531.33 198.66 533.77 202.3 536.5 C205.97 539.24 208.69 541.55 212.5 544.1 C214.79 545.63 216.66 546.73 219.2 547.8 C222.16 549.05 224.57 549.78 227.7 550.5 C231.93 551.48 235.28 552.09 239.6 552.5 C248.07 553.31 254.7 553.4 263.2 553.9" fill="none" stroke="#1a1a1a" stroke-width="1.3" stroke-linejoin="round" stroke-linecap="round"/>
<line x1="366.3" y1="84.4" x2="621" y2="84.4" stroke="#ec3050" stroke-width="1.35" stroke-dasharray="2.5 1.64" stroke-dashoffset="0.44"/>
<path d="M366.4 112.4 L374.5 112.4 L374.8 16.2 C375.02 18.14 374.54 19.84 375.4 21.6 C375.7 22.2 376.63 20.74 377.2 21.1 C378.51 21.95 379.19 23.11 379.9 24.5 C381.48 27.61 382.4 30.19 383.5 33.5 C385 38.01 386.22 41.53 387.1 46.2 C388.07 51.36 388.15 55.47 388.6 60.7 C389.16 67.21 389.16 72.31 389.9 78.8 C390.28 82.08 390.51 84.72 391.7 87.8 C392.19 89.08 393.03 90.35 394.4 90.5 C396.44 90.73 397.88 89.42 399.8 88.7 C402.46 87.7 404.49 86.83 407.1 85.7 C409.72 84.56 412.03 84.13 414.3 82.4 C415.81 81.25 416.87 79.87 417.2 78 C418.31 71.61 418.06 66.49 418.2 60 C418.53 44.96 418.39 33.25 418.5 18.2 C418.93 18.85 419.36 19.3 419.7 20 C421.09 22.87 422.13 25.13 423.3 28.1 C425.08 32.62 426.64 36.1 427.9 40.8 C429.27 45.89 430.03 49.96 430.6 55.2 C431.51 63.66 431.33 70.32 432 78.8 C432.3 82.63 432.24 85.7 433.3 89.4 C433.73 90.9 434.44 92.89 436 92.8 C439.59 92.59 441.65 89.71 445.1 88.7 C448.24 87.78 450.84 87.75 454.1 87.5 C459.31 87.1 463.43 87.65 468.6 86.9 C471.18 86.52 473.45 86.13 475.4 84.4 C477.32 82.69 478.29 80.56 478.6 78 C479.82 67.99 479.31 60.08 479.6 50 C479.92 38.99 480.05 30.42 480.3 19.4 C481.16 20.59 482.05 21.38 482.7 22.7 C484.87 27.13 486.5 30.63 488.1 35.3 C489.64 39.77 490.75 43.32 491.4 48 C492.2 53.82 491.79 58.43 492.1 64.3 C492.44 70.82 492.42 75.92 493.2 82.4 C493.58 85.56 493.89 88.14 495.3 91 C495.79 92 497.01 92.5 498.1 92.3 C501.83 91.62 504.24 89.22 508 88.7 C513.81 87.9 518.43 88.79 524.3 88.7 C530.82 88.61 535.92 88.89 542.4 88.2 C545.09 87.91 547.38 87.55 549.6 86 C551.53 84.65 552.76 82.89 553.3 80.6 C554.65 74.87 554.51 70.19 554.7 64.3 C555.23 48.36 555.08 35.95 555.3 20 C556.2 20.97 557.25 21.5 557.8 22.7 C559.8 27.08 560.88 30.7 562.3 35.3 C563.8 40.14 565.12 43.9 565.9 48.9 C566.96 55.68 566.88 61.06 567.4 67.9 C567.85 73.77 567.82 78.37 568.6 84.2 C568.94 86.79 569.27 88.9 570.5 91.2 C571.03 92.2 572.08 92.95 573.2 92.8 C576.61 92.33 578.86 90.42 582.2 89.6 C584.95 88.93 587.17 88.79 590 88.7 C592.95 88.61 595.31 88.5 598.2 89.1 C600.96 89.67 603.19 90.29 605.5 91.9 C607.58 93.34 608.75 95.1 610 97.3 C611.74 100.38 612.18 103.21 613.7 106.4 C614.71 108.51 614.94 110.88 617 112 C619.7 113.47 622.43 112.75 625.5 112.8 C651.31 113.19 671.39 113.06 697.2 113.2" fill="none" stroke="#1a1a1a" stroke-width="1.3" stroke-linejoin="round" stroke-linecap="round"/>
<line x1="366.3" y1="125.3" x2="697.2" y2="125.3" stroke="#1a1a1a" stroke-width="1.3"/>
<line x1="374.6" y1="125.3" x2="374.6" y2="298.5" stroke="#1a1a1a" stroke-width="1.3"/>
<path d="M366.4 200.5 L374.7 200.5 L374.9 210 C376.23 209.21 377.15 208.34 378.6 207.8 C380.97 206.92 383.07 207.07 385.4 206.1 C386.27 205.74 386.74 205.02 387.2 204.2 C387.74 203.25 387.58 202.26 388.1 201.3 C388.33 200.87 388.71 200.51 389.2 200.5 C398.99 200.22 406.62 200.13 416.4 200.5 C417.16 200.53 418.17 200.84 418.2 201.6 C419.05 221.78 418.58 237.5 418.8 257.7 C418.98 240.64 418.13 227.32 419.3 210.3 C419.39 209.03 421.03 208.8 422.2 208.3 C423.95 207.56 425.67 207.88 427.3 206.9 C428.41 206.24 428.78 205.13 429.4 204 C429.9 203.09 429.89 202.2 430.4 201.3 C430.63 200.9 430.94 200.51 431.4 200.5 C448.17 200.22 461.23 200.12 478 200.5 C478.76 200.52 479.77 200.84 479.8 201.6 C480.65 221.78 480.18 237.5 480.4 257.7 C480.58 240.64 479.73 227.32 480.9 210.3 C480.99 209.03 482.63 208.8 483.8 208.3 C485.55 207.56 487.24 207.83 488.9 206.9 C490.12 206.22 490.74 205.18 491.5 204 C492.06 203.13 491.99 202.2 492.5 201.3 C492.73 200.9 493.04 200.51 493.5 200.5 C514.92 200.22 531.58 200.12 553 200.5 C553.76 200.51 554.77 200.84 554.8 201.6 C555.65 221.78 555.18 237.5 555.4 257.7 C555.58 240.64 554.73 227.32 555.9 210.3 C555.99 209.03 557.63 208.8 558.8 208.3 C560.55 207.56 562.22 207.8 563.9 206.9 C565.2 206.2 565.96 205.21 566.8 204 C567.39 203.15 567.29 202.2 567.8 201.3 C568.03 200.9 568.34 200.5 568.8 200.5 C615.02 200.21 650.98 200.5 697.2 200.5" fill="none" stroke="#1a1a1a" stroke-width="1.3" stroke-linejoin="round" stroke-linecap="round"/>
<path d="M366.4 334.1 L374.9 334.1 C375.33 331.15 375.69 328.86 376.1 325.9 C377.02 319.21 377.41 313.95 378.6 307.3 C379.54 302.06 380.45 298 382 292.9 C382.48 291.33 383.12 290.13 384.2 288.9 C384.53 288.52 385.24 288.44 385.6 288.8 C386.56 289.76 387.17 290.77 387.4 292.1 C388.34 297.51 388.21 301.84 388.8 307.3 C389.33 312.21 389.3 316.11 390.5 320.9 C391.16 323.52 391.92 325.76 393.9 327.6 C396.38 329.92 399.06 330.87 402.3 331.9 C405.24 332.84 407.72 332.77 410.8 333 C413.03 333.17 414.77 333 417 333 C417.58 331.56 418.41 330.54 418.6 329 C419.82 319.39 419.65 311.8 420.9 302.2 C421.7 296.05 422.7 291.3 424.3 285.3 C424.77 283.54 425.36 282.13 426.6 280.8 C427.02 280.35 427.88 280.55 428.3 281 C429.11 281.86 429.45 282.83 429.6 284 C430.46 290.52 430.45 295.66 431.1 302.2 C431.89 310.13 431.72 316.45 433.6 324.2 C434.23 326.78 435.61 328.85 437.9 330.2 C441.13 332.1 444.29 332.17 448 332.7 C452.86 333.4 456.69 333.49 461.6 333.6 C468.01 333.74 472.99 333.47 479.4 333.4 C479.83 331.92 480.44 330.83 480.6 329.3 C481.63 319.57 481.53 311.92 482.7 302.2 C483.51 295.44 484.53 290.22 486.1 283.6 C486.52 281.83 487.06 280.42 488.2 279 C488.56 278.55 489.39 278.6 489.8 279 C490.63 279.81 491.05 280.75 491.2 281.9 C492.17 289.17 492.15 294.91 492.9 302.2 C493.66 309.52 493.41 315.41 495.4 322.5 C496.23 325.45 497.88 327.72 500.5 329.3 C504.28 331.58 507.93 332.04 512.3 332.7 C518.33 333.6 523.11 333.5 529.2 333.6 C538.24 333.75 545.26 333.47 554.3 333.4 C554.73 331.31 555.25 329.72 555.5 327.6 C556.58 318.48 556.78 311.31 558 302.2 C558.9 295.45 559.76 290.21 561.4 283.6 C561.8 282 562.44 280.76 563.6 279.6 C564.01 279.19 564.79 279.39 565.2 279.8 C565.9 280.5 566.19 281.32 566.3 282.3 C567.13 289.44 567.02 295.06 567.8 302.2 C568.6 309.54 568.83 315.36 570.7 322.5 C571.43 325.28 572.55 327.64 574.9 329.3 C578.06 331.54 581.29 332 585.1 332.7 C590.39 333.67 594.62 333.83 600 333.9 C634.99 334.34 662.21 334.03 697.2 334.1" fill="none" stroke="#1a1a1a" stroke-width="1.3" stroke-linejoin="round" stroke-linecap="round"/>
<path d="M366.4 408.6 L374.9 408.6 L375.2 393.8 C375.81 393.62 376.47 393.77 376.9 393.3 C378.39 391.67 379.27 390.15 380.3 388.2 C382.01 384.95 383.27 382.36 384.5 378.9 C385.73 375.43 386.4 372.62 387.1 369 C387.81 365.29 387.93 362.34 388.4 358.6 C388.98 361.26 389.33 363.36 390 366 C390.7 368.73 390.99 370.96 392.2 373.5 C392.84 374.83 393.74 375.73 395 376.5 C396.24 377.26 397.47 377.32 398.9 377.6 C401.94 378.19 404.32 378.59 407.4 378.9 C410.45 379.2 412.89 379.85 415.9 379.3 C416.96 379.11 417.4 378 417.8 377 C418.34 375.65 418.18 374.44 418.4 373 L418.6 395.9 C419.43 394.96 420.29 394.39 420.9 393.3 C422.69 390.07 424 387.49 425.2 384 C426.78 379.43 427.56 375.72 428.6 371 C429.58 366.57 430.01 363.06 430.8 358.6 C431.38 361.44 431.73 363.68 432.4 366.5 C433.09 369.41 433.42 371.76 434.6 374.5 C435.43 376.43 436.18 378.1 437.9 379.3 C439.98 380.76 442.17 380.78 444.6 381.5 C448.25 382.58 451.1 383.39 454.8 384.3 C458.41 385.19 461.19 386.16 464.9 386.5 C467.95 386.78 470.45 386.82 473.4 386 C475.16 385.51 476.54 384.56 477.5 383 C478.79 380.9 478.65 378.78 479.3 376.4 L479.8 396.3 C481.13 394.32 482.5 392.97 483.5 390.8 C485.69 386.05 487.02 382.19 488.6 377.2 C489.51 374.32 489.9 371.98 490.4 369 C491.02 365.28 491.23 362.34 491.7 358.6 C492.24 361.62 492.51 364.01 493.2 367 C493.88 369.92 494.16 372.32 495.5 375 C496.52 377.03 497.65 378.63 499.6 379.8 C502.04 381.26 504.48 381.14 507.2 382 C512.12 383.55 515.83 385.14 520.8 386.5 C525.6 387.81 529.37 388.8 534.3 389.4 C537.94 389.85 540.85 389.82 544.5 389.4 C546.92 389.12 548.95 388.83 551 387.5 C552.44 386.57 552.94 385.08 553.6 383.5 C554.25 381.94 554.24 380.56 554.6 378.9 L555.1 396.7 C556.14 394.58 557.1 392.99 558 390.8 C559.98 385.96 561.45 382.16 563.1 377.2 C564.3 373.59 565.06 370.71 565.9 367 C566.58 364.01 566.8 361.62 567.3 358.6 C567.77 361.44 568.03 363.67 568.6 366.5 C569.18 369.4 569.53 371.7 570.5 374.5 C571.2 376.52 571.44 378.58 573.2 379.8 C575.82 381.62 578.68 381.26 581.7 382.3 C585.06 383.46 587.55 384.7 590.9 385.9 C594.79 387.29 597.96 387.98 601.8 389.5 C603.52 390.18 604.91 390.78 606.3 392 C607.64 393.17 608.3 394.47 609.2 396 C610.53 398.26 611.24 400.2 612.5 402.5 C613.51 404.34 614.05 405.98 615.5 407.5 C616.25 408.28 617.23 408.46 618.3 408.6 C620.87 408.93 622.91 408.78 625.5 408.8 C651.31 408.96 671.39 408.99 697.2 409.1" fill="none" stroke="#1a1a1a" stroke-width="1.3" stroke-linejoin="round" stroke-linecap="round"/>
<path d="M366.4 441.7 L374.4 440.9 L374.8 423.4 L375.5 446.8 C375.93 441.29 375.94 436.97 376.7 431.5 C376.78 430.89 377.41 429.73 377.8 430.2 C378.94 431.59 379.06 433.16 379.5 434.9 C381.19 441.55 382.26 446.79 383.7 453.5 C384.89 459.06 385.6 463.44 386.8 469 C387.44 471.97 388.08 474.25 388.8 477.2 C390.64 473.56 391.88 470.64 393.9 467.1 C396.75 462.1 398.71 458 402.3 453.5 C404.86 450.29 407.44 448.26 410.8 445.9 C412.1 444.99 413.42 444.45 415 444.6 C416.04 444.7 416.66 445.61 417.2 446.5 C417.93 447.7 417.97 448.87 418.4 450.2 C418.58 443.11 418.41 437.58 418.9 430.5 C418.93 430.09 419.39 429.86 419.8 429.8 C420.22 429.74 420.73 429.81 420.9 430.2 C422.12 433.01 422.83 435.31 423.5 438.3 C425.28 446.16 426.27 452.36 427.7 460.3 C429.01 467.59 429.88 473.29 431.1 480.6 C432.94 474.52 433.62 469.51 436.2 463.7 C438.52 458.47 440.55 454.25 444.6 450.2 C447.5 447.3 450.82 446.11 454.8 445.1 C459.52 443.9 463.43 444.1 468.3 444.2 C470.58 444.25 472.41 444.59 474.5 445.5 C476.07 446.18 477.35 447.01 478.2 448.5 C479.43 450.67 479.35 452.79 480 455.2 C480.18 447.28 479.82 441.09 480.5 433.2 C480.62 431.84 481.17 428.9 482.2 429.8 C484.14 431.49 483.85 434.09 484.4 436.6 C485.87 443.25 486.69 448.48 487.8 455.2 C488.81 461.3 489.29 466.1 490.3 472.2 C490.91 475.86 491.58 478.66 492.3 482.3 C494.03 477.44 495.07 473.54 497.1 468.8 C499.25 463.77 500.65 459.6 503.9 455.2 C506.83 451.22 509.47 447.87 514 445.9 C519.05 443.7 523.7 444.34 529.2 444.2 C535.33 444.05 540.26 443.6 546.2 445.1 C549.14 445.84 551.07 447.78 552.9 450.2 C554.43 452.23 554.31 454.49 555.1 456.9 C555.28 448.98 554.84 442.79 555.6 434.9 C555.79 432.92 555.87 429.04 557.7 429.8 C560.06 430.78 559.17 434.1 559.7 436.6 C561.12 443.26 561.99 448.48 563.1 455.2 C564.11 461.3 564.58 466.1 565.6 472.2 C566.24 476 566.94 478.92 567.7 482.7 C569.1 478.92 570.07 475.93 571.6 472.2 C573.89 466.64 575.32 462.12 578.3 456.9 C580.23 453.52 582.34 451.24 585.1 448.5 C586.92 446.7 588.47 445.19 590.9 444.4 C594.66 443.18 597.9 443.76 601.8 443.1 C605.8 442.42 608.79 441.31 612.8 440.7 C617.34 440.01 620.91 439.74 625.5 439.5 C632.04 439.16 637.15 439.14 643.7 439.1 C662.96 438.99 677.94 439.1 697.2 439.1" fill="none" stroke="#1a1a1a" stroke-width="1.3" stroke-linejoin="round" stroke-linecap="round"/>
<path d="M366.4 553.4 L374.9 554.8 C375.15 551.56 375.38 549.04 375.6 545.8 C376.1 538.49 376.22 532.79 376.9 525.5 C377.3 521.19 377.62 517.82 378.6 513.6 C378.93 512.17 379.58 511.14 380.5 510 C380.87 509.55 381.43 509.29 382 509.4 C383.6 509.71 385.17 509.84 386.2 511.1 C388.1 513.42 388.49 515.91 389.6 518.7 C391.27 522.9 391.88 526.46 393.9 530.5 C395.86 534.43 397.67 537.42 400.6 540.7 C403.21 543.62 405.77 545.43 409.1 547.5 C411.91 549.24 414.4 550.06 417.5 551.2 C417.88 551.34 418.2 551.07 418.6 551 C419.14 546.07 419.33 542.2 420.1 537.3 C420.77 533.01 421.29 529.64 422.6 525.5 C423.43 522.89 424.29 520.84 426 518.7 C426.85 517.63 428.18 516.39 429.4 517 C431.37 517.99 431.81 520.13 432.8 522.1 C434.88 526.23 435.71 529.82 437.9 533.9 C439.98 537.77 441.58 540.91 444.6 544.1 C447.16 546.81 449.69 548.49 453.1 550 C457.12 551.78 460.56 552.43 464.9 553.1 C468.53 553.66 471.43 553.47 475.1 553.4 C476.73 553.37 477.98 553.02 479.6 552.8 C479.92 551.5 480.35 550.53 480.5 549.2 C481.14 543.71 481.01 539.37 481.8 533.9 C482.42 529.59 483.06 526.24 484.4 522.1 C485.24 519.5 486.17 517.5 487.8 515.3 C488.52 514.33 489.51 513.39 490.7 513.6 C491.91 513.81 492.49 515.05 492.9 516.2 C494.5 520.65 494.52 524.48 496.2 528.9 C497.89 533.36 499.36 536.87 502.2 540.7 C504.63 543.97 507.13 546.16 510.6 548.3 C513.94 550.37 516.97 551.33 520.8 552.2 C525.57 553.29 529.43 553.29 534.3 553.7 C537.96 554.01 540.83 554.33 544.5 554.2 C548.05 554.08 550.77 553.43 554.3 553 C554.55 551.63 554.87 550.58 555 549.2 C555.59 543.09 555.37 538.27 556.3 532.2 C557.06 527.25 557.98 523.41 559.7 518.7 C560.46 516.63 561.54 515.16 563.1 513.6 C563.77 512.93 564.77 512.34 565.6 512.8 C566.88 513.51 567.29 514.83 567.8 516.2 C569.47 520.67 569.99 524.41 571.6 528.9 C573.16 533.24 574.33 536.69 576.6 540.7 C577.76 542.74 579.17 544.03 581 545.5 C583.06 547.16 584.87 548.26 587.3 549.3 C590.95 550.87 593.92 551.85 597.8 552.7 C603.02 553.84 607.18 554.24 612.5 554.8 C620.08 555.6 625.99 556.12 633.6 556.5 C641.15 556.88 647.04 556.85 654.6 556.9 C669.94 557 681.86 556.9 697.2 556.9" fill="none" stroke="#1a1a1a" stroke-width="1.3" stroke-linejoin="round" stroke-linecap="round"/>
<rect x="598" y="469.6" width="101.6" height="68" fill="#fff" stroke="#505050" stroke-width="1.0"/>
<clipPath id="ic"><rect x="598" y="469.6" width="101.6" height="68"/></clipPath>
<g clip-path="url(#ic)">
<line x1="598" y1="520.1" x2="699.6" y2="520.1" stroke="#ec3050" stroke-width="1.35" stroke-dasharray="2.5 1.64" stroke-dashoffset="0.44"/>
<path d="M598 470.5 C598.36 473.92 598.56 476.59 599 480 C599.46 483.61 599.88 486.41 600.5 490 C600.97 492.71 601.32 494.83 602 497.5 C602.15 498.09 602.7 499.6 602.8 499 C603.31 495.8 603.15 493.24 603.2 490 C603.33 481.36 603.26 474.64 603.3 466" fill="none" stroke="#1a1a1a" stroke-width="1.0" stroke-linejoin="round" stroke-linecap="round"/>
<path d="M618 466 C618.22 468.16 618.31 469.85 618.6 472 C619.46 478.42 619.98 483.44 621.2 489.8 C622.21 495.08 623.23 499.16 624.8 504.3 C625.83 507.67 626.75 510.29 628.4 513.4 C628.95 514.44 629.65 515.37 630.8 515.6 C631.55 515.75 632.23 514.95 632.4 514.2 C633.13 510.96 633.05 508.32 633.2 505 C633.52 497.8 633.57 492.2 633.7 485 C633.82 478.16 633.83 472.84 633.9 466" fill="none" stroke="#1a1a1a" stroke-width="1.0" stroke-linejoin="round" stroke-linecap="round"/>
<path d="M648.3 466 C648.52 468.16 648.59 469.85 648.9 472 C649.46 475.9 649.87 478.95 650.7 482.8 C651.78 487.85 652.72 491.76 654.2 496.7 C655.53 501.13 656.74 504.52 658.5 508.8 C659.56 511.38 660.48 513.37 662 515.7 C662.99 517.22 663.72 518.72 665.4 519.4 C666.47 519.83 667.86 519.32 668.4 518.3 C669.74 515.76 669.9 513.37 670.1 510.5 C670.76 501.2 670.59 493.93 670.8 484.6 C670.95 477.9 670.99 472.7 671.1 466" fill="none" stroke="#1a1a1a" stroke-width="1.0" stroke-linejoin="round" stroke-linecap="round"/>
<path d="M685.2 466 C685.34 468.16 685.37 469.85 685.6 472 C686.02 475.9 686.33 478.94 687 482.8 C687.77 487.19 688.44 490.6 689.6 494.9 C690.96 499.97 692.39 503.8 694 508.8 C695.2 512.52 696.15 515.4 697.4 519.1 C698.49 522.31 699.38 524.8 700.5 528" fill="none" stroke="#1a1a1a" stroke-width="1.0" stroke-linejoin="round" stroke-linecap="round"/>
</g>
<line x1="596" y1="469.6" x2="598" y2="469.6" stroke="#505050" stroke-width="1.0"/>
<text x="595.4" y="472.9" font-family="Liberation Serif" font-size="9.8" text-anchor="end" fill="#222">0.15</text>
<line x1="596" y1="514.8" x2="598" y2="514.8" stroke="#505050" stroke-width="1.0"/>
<text x="595.4" y="518.1" font-family="Liberation Serif" font-size="9.8" text-anchor="end" fill="#222">0.10</text>
<line x1="598" y1="537.6" x2="598" y2="539.8" stroke="#505050" stroke-width="1.0"/>
<text x="598" y="548.6" font-family="Liberation Serif" font-size="9.8" text-anchor="middle" fill="#222">0.5</text>
<line x1="618.32" y1="537.6" x2="618.32" y2="539.8" stroke="#505050" stroke-width="1.0"/>
<text x="618.32" y="548.6" font-family="Liberation Serif" font-size="9.8" text-anchor="middle" fill="#222">1.0</text>
<line x1="638.64" y1="537.6" x2="638.64" y2="539.8" stroke="#505050" stroke-width="1.0"/>
<text x="638.64" y="548.6" font-family="Liberation Serif" font-size="9.8" text-anchor="middle" fill="#222">1.5</text>
<line x1="658.96" y1="537.6" x2="658.96" y2="539.8" stroke="#505050" stroke-width="1.0"/>
<text x="658.96" y="548.6" font-family="Liberation Serif" font-size="9.8" text-anchor="middle" fill="#222">2.0</text>
<line x1="679.28" y1="537.6" x2="679.28" y2="539.8" stroke="#505050" stroke-width="1.0"/>
<text x="679.28" y="548.6" font-family="Liberation Serif" font-size="9.8" text-anchor="middle" fill="#222">2.5</text>
<line x1="699.6" y1="537.6" x2="699.6" y2="539.8" stroke="#505050" stroke-width="1.0"/>
<text x="699.6" y="548.6" font-family="Liberation Serif" font-size="9.8" text-anchor="middle" fill="#222">3.0</text>
<line x1="608.16" y1="537.6" x2="608.16" y2="538.9" stroke="#505050" stroke-width="1.0"/>
<line x1="628.48" y1="537.6" x2="628.48" y2="538.9" stroke="#505050" stroke-width="1.0"/>
<line x1="648.8" y1="537.6" x2="648.8" y2="538.9" stroke="#505050" stroke-width="1.0"/>
<line x1="669.12" y1="537.6" x2="669.12" y2="538.9" stroke="#505050" stroke-width="1.0"/>
<line x1="689.44" y1="537.6" x2="689.44" y2="538.9" stroke="#505050" stroke-width="1.0"/>
<line x1="596.7" y1="492.2" x2="598" y2="492.2" stroke="#505050" stroke-width="1.0"/>
<line x1="596.7" y1="537.4" x2="598" y2="537.4" stroke="#505050" stroke-width="1.0"/>
<text x="650.5" y="465.6" font-family="Liberation Sans" font-size="12.2" text-anchor="middle" fill="#222">[Ca<tspan font-size="8" dy="-4.4">2+</tspan><tspan dy="4.4">]</tspan><tspan font-size="8" dy="2.8">i</tspan></text>
</svg>
</body></html>
